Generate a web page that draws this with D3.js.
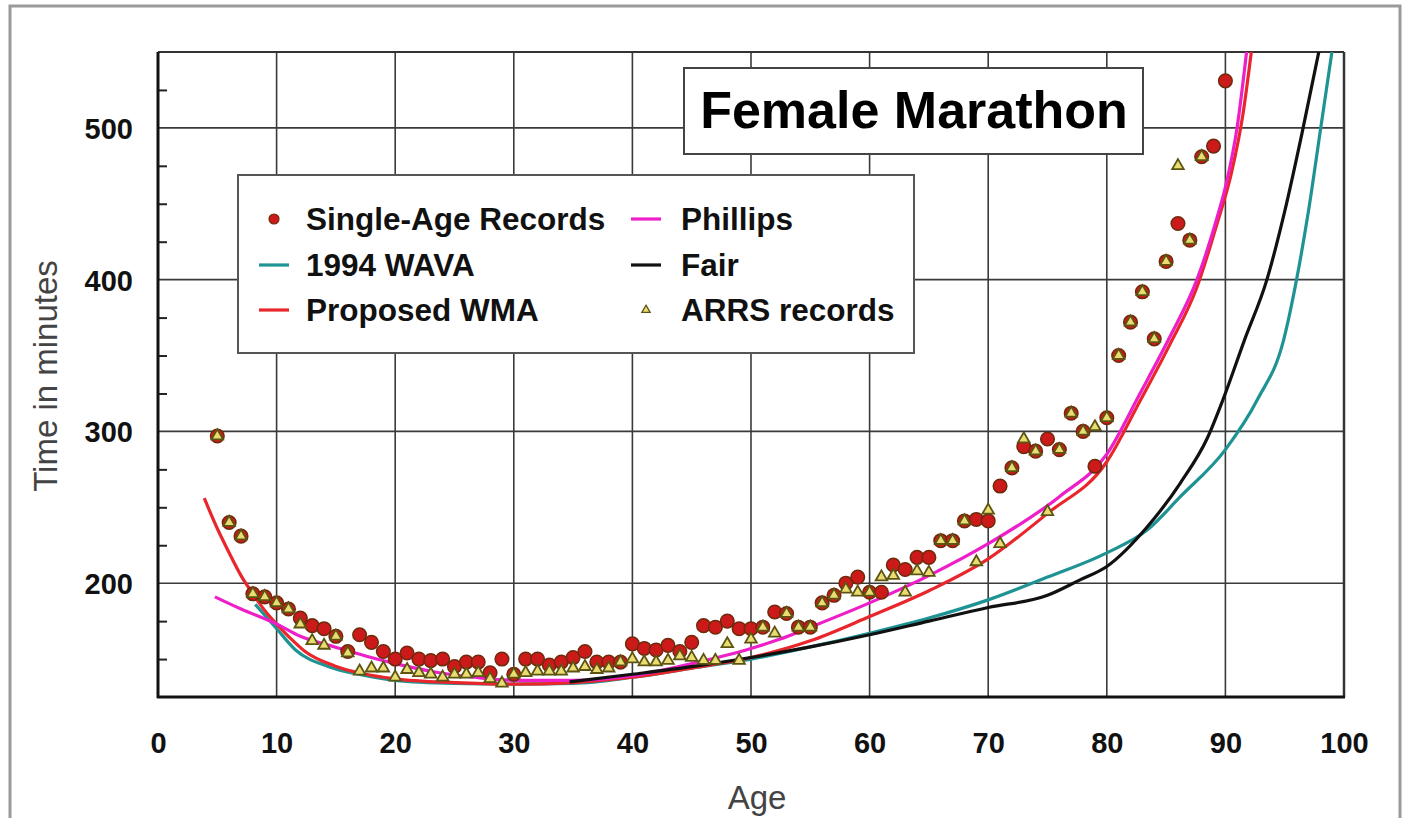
<!DOCTYPE html>
<html><head><meta charset="utf-8">
<script src="https://cdn.jsdelivr.net/npm/d3@7/dist/d3.min.js"></script>
<style>
body{margin:0;background:#fff}
svg{display:block}
text{font-family:"Liberation Sans",Arial,Helvetica,sans-serif}
</style>
</head><body>
<svg id="chart" width="1408" height="818"></svg>
<script>
// ---------- DATA ----------
const singleAges = [5,6,7,8,9,10,11,12,13,14,15,16,17,18,19,20,21,22,23,24,25,26,27,28,29,30,31,32,33,34,35,36,37,38,39,40,41,42,43,44,45,46,47,48,49,50,51,52,53,54,55,56,57,58,59,60,61,62,63,64,65,66,67,68,69,70,71,72,73,74,75,76,77,78,79,80,81,82,83,84,85,86,87,88,89,90];
const singleTimes = [297,240,231,193,191,187,183,177,172,170,165,155,166,161,155,150,154,150,149,150,145,148,148,141,150,140,150,150,146,148,151,155,148,148,148,160,157,156,159,155,161,172,171,175,170,170,171,181,180,171,171,187,192,200,204,194,194,212,209,217,217,228,228,241,242,241,264,276,290,287,295,288,312,300,277,309,350,372,392,361,412,437,426,481,488,531];

const arrsAges = [5,6,7,8,9,10,11,12,13,14,15,16,17,18,19,20,21,22,23,24,25,26,27,28,29,30,31,32,33,34,35,36,37,38,39,40,41,42,43,44,45,46,47,48,49,50,51,52,53,54,55,56,57,58,59,60,61,62,63,64,65,66,67,68,69,70,71,72,73,74,75,76,77,78,79,80,81,82,83,84,85,86,87,88];
const arrsTimes = [297,240,231,193,191,187,183,173,162,159,165,154,142,144,144,138,143,141,140,138,140,140,141,137,134,140,141,142,142,142,144,145,143,144,148,150,148,148,149,152,151,149,149,160,149,163,171,167,180,171,171,187,192,196,194,194,204,205,194,208,207,228,228,241,214,248,226,276,295,287,247,288,312,300,303,309,350,372,392,361,412,475,426,481];

const wavaAges  = [8.2,9.9,11.6,14.4,17.2,20,25,30,35,40,45,50,55,60,65,70,75,80,83.4,86.2,90,92.7,94.9,96,97,98,99];
const wavaTimes = [186,171,156,145,139.5,136,134,133.5,134,138,144,150,158,167,177,189,204,220,235,257,288,321,360,400,445,498,551];

const wmaAges  = [3.9,5,6,7,8,9,10,11,12.4,14.9,17.2,20,25,30,35,40,45,50,55,60,65,70,75,80,82.8,85.3,87.6,89.3,90.5,91.5,92.2];
const wmaTimes = [256,236,220,205,193,182,173,165,155,145.5,140.5,137,134.5,133.5,134.5,138,144,151,162,178,195,216,246,280,320,357,395,437,470,510,551];

const phillipsAges  = [4.8,7,9.9,12,14.9,17.5,20,23,26.7,30,35,40,45,50,52.4,55,60,65,70,76,80,82.8,85.3,87.6,89.3,90,91,91.8];
const phillipsTimes = [191,183,173.5,165,158,152,147,142,138,136,136,139,147,157,163,171,187,205,226,257,285,325,362,400,441,461,501,551];

const fairAges  = [34.7,40,45,50,55,60,65,70,75,77.7,80,83.4,86.2,88.5,89.8,91.6,93.5,95,96.5,97.9];
const fairTimes = [135,140,145,151,158,166,175,184,192,202,211,237,266,296,321,360,400,445,498,551];

const xTicks = [0,10,20,30,40,50,60,70,80,90,100];
const yTicks = [200,300,400,500];
const yMinorTicks = [150,175,225,250,275,325,350,375,425,450,475,525];

const titleText = "Female Marathon";
const xTitle = "Age";
const yTitle = "Time in minutes";
const legendLabels = ["Single-Age Records","1994 WAVA","Proposed WMA","Phillips","Fair","ARRS records"];

// ---------- SETUP ----------
const svg = d3.select("#chart");
const X0 = 158, X1 = 1344, Y0 = 697, Y1 = 52;
const x = d3.scaleLinear().domain([0,100]).range([X0,X1]);
const y = d3.scaleLinear().domain([125,550]).range([Y0,Y1]);

const colors = {wava:"#1f9393", wma:"#e8262c", phillips:"#ee1fc8", fair:"#111111",
                dotFill:"#cc1a1a", dotStroke:"#6e2a0c", triFill:"#e9dd72", triStroke:"#5d5412"};

// outer frame
svg.append("rect").attr("x",10).attr("y",6).attr("width",1390).attr("height",840)
  .attr("fill","#fff").attr("stroke","#9a9a9a").attr("stroke-width",3);

// plot background
svg.append("rect").attr("x",X0).attr("y",Y1).attr("width",X1-X0).attr("height",Y0-Y1).attr("fill","#fff");

// gridlines
const grid = svg.append("g").attr("stroke","#3a3a3a").attr("stroke-width",1.6);
grid.selectAll(".gx").data(xTicks.filter(d=>d>0 && d<100)).enter().append("line")
  .attr("x1",d=>x(d)).attr("x2",d=>x(d)).attr("y1",Y1).attr("y2",Y0);
grid.selectAll(".gy").data(yTicks).enter().append("line")
  .attr("x1",X0).attr("x2",X1).attr("y1",d=>y(d)).attr("y2",d=>y(d));
// top and right border
svg.append("line").attr("x1",X0).attr("x2",X1).attr("y1",Y1).attr("y2",Y1).attr("stroke","#333").attr("stroke-width",2);
svg.append("line").attr("x1",X1).attr("x2",X1).attr("y1",Y1).attr("y2",Y0).attr("stroke","#333").attr("stroke-width",2.5);

// axes
const yAxis = d3.axisLeft(y).tickValues(yTicks).tickSize(0).tickPadding(25);
const gy = svg.append("g").attr("transform",`translate(${X0},0)`).call(yAxis);
gy.select(".domain").remove();
gy.selectAll("text").attr("font-size",29).attr("font-weight","bold").attr("fill","#111").attr("dy","0.36em");

const yMinor = d3.axisRight(y).tickValues(yMinorTicks).tickSize(9).tickFormat("");
const gym = svg.append("g").attr("transform",`translate(${X0},0)`).call(yMinor);
gym.select(".domain").remove();
gym.selectAll("line").attr("stroke","#222").attr("stroke-width",2);

const xAxis = d3.axisBottom(x).tickValues(xTicks).tickSize(0).tickPadding(35);
const gx = svg.append("g").attr("transform",`translate(0,${Y0})`).call(xAxis);
gx.select(".domain").remove();
gx.selectAll("text").attr("font-size",29).attr("font-weight","bold").attr("fill","#111");

svg.append("line").attr("x1",X0).attr("x2",X0).attr("y1",Y1).attr("y2",Y0+1).attr("stroke","#111").attr("stroke-width",3);
svg.append("line").attr("x1",X0-1).attr("x2",X1+1).attr("y1",Y0).attr("y2",Y0).attr("stroke","#111").attr("stroke-width",3);

// axis titles
svg.append("text").attr("x",757).attr("y",809).attr("text-anchor","middle")
  .attr("font-size",33).attr("fill","#444").text(xTitle);
svg.append("text").attr("transform","translate(57,376) rotate(-90)").attr("text-anchor","middle")
  .attr("font-size",33).attr("fill","#444").text(yTitle);

// clip
svg.append("clipPath").attr("id","clip").append("rect")
  .attr("x",X0).attr("y",Y1).attr("width",X1-X0).attr("height",Y0-Y1);
const plot = svg.append("g").attr("clip-path","url(#clip)");

const line = d3.line().x(d=>x(d[0])).y(d=>y(d[1])).curve(d3.curveMonotoneX);
const series = [
  {ages:wavaAges, times:wavaTimes, color:colors.wava},
  {ages:wmaAges, times:wmaTimes, color:colors.wma},
  {ages:phillipsAges, times:phillipsTimes, color:colors.phillips},
  {ages:fairAges, times:fairTimes, color:colors.fair}
];
series.forEach(s=>{
  plot.append("path").datum(s.ages.map((a,i)=>[a,s.times[i]]))
    .attr("d",line).attr("fill","none").attr("stroke",s.color).attr("stroke-width",3.2)
    .attr("stroke-linejoin","round");
});

// markers
plot.selectAll(".dot").data(singleAges.map((a,i)=>[a,singleTimes[i]])).enter().append("circle")
  .attr("cx",d=>x(d[0])).attr("cy",d=>y(d[1])).attr("r",6.8)
  .attr("fill",colors.dotFill).attr("stroke",colors.dotStroke).attr("stroke-width",1.5);
const tri = d3.symbol().type(d3.symbolTriangle).size(58);
plot.selectAll(".tri").data(arrsAges.map((a,i)=>[a,arrsTimes[i]])).enter().append("path")
  .attr("d",tri).attr("transform",d=>`translate(${x(d[0])},${y(d[1])})`)
  .attr("fill",colors.triFill).attr("stroke",colors.triStroke).attr("stroke-width",1.8);

// title box
svg.append("rect").attr("x",684).attr("y",68).attr("width",459).attr("height",86)
  .attr("fill","#fff").attr("stroke","#444").attr("stroke-width",2);
svg.append("text").attr("x",914).attr("y",128).attr("text-anchor","middle")
  .attr("font-size",52).attr("font-weight","bold").attr("fill","#000").text(titleText);

// legend
const lg = svg.append("g");
lg.append("rect").attr("x",238).attr("y",175).attr("width",676).attr("height",178)
  .attr("fill","#fff").attr("stroke","#555").attr("stroke-width",2);
const legendItems = [
  {label:legendLabels[0], type:"dot", col:0, row:0},
  {label:legendLabels[1], type:"line", color:colors.wava, col:0, row:1},
  {label:legendLabels[2], type:"line", color:colors.wma, col:0, row:2},
  {label:legendLabels[3], type:"line", color:colors.phillips, col:1, row:0},
  {label:legendLabels[4], type:"line", color:colors.fair, col:1, row:1},
  {label:legendLabels[5], type:"tri", col:1, row:2}
];
const colX = [259, 631], textX = [306, 681], rowY = [219, 265, 310];
legendItems.forEach(it=>{
  const cx = colX[it.col], cy = rowY[it.row];
  if(it.type==="line"){
    lg.append("line").attr("x1",cx).attr("x2",cx+30).attr("y1",cy).attr("y2",cy)
      .attr("stroke",it.color).attr("stroke-width",3.2);
  } else if(it.type==="dot"){
    lg.append("circle").attr("cx",cx+15).attr("cy",cy).attr("r",5)
      .attr("fill",colors.dotFill).attr("stroke",colors.dotStroke).attr("stroke-width",1.2);
  } else {
    lg.append("path").attr("d",d3.symbol().type(d3.symbolTriangle).size(30))
      .attr("transform",`translate(${cx+15},${cy})`)
      .attr("fill",colors.triFill).attr("stroke",colors.triStroke).attr("stroke-width",1.3);
  }
  lg.append("text").attr("x",textX[it.col]).attr("y",cy).attr("dy","0.36em")
    .attr("font-size",31.5).attr("font-weight","bold").attr("fill","#111").text(it.label);
});
</script>
</body></html>
